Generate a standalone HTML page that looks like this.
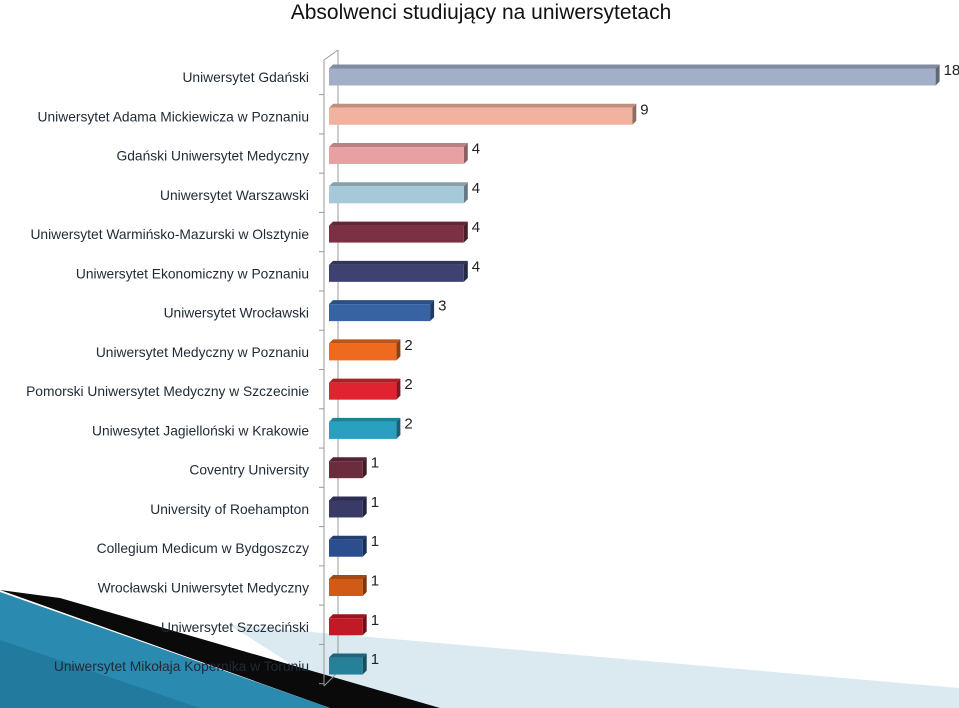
<!DOCTYPE html>
<html><head><meta charset="utf-8"><style>
html,body{margin:0;padding:0;background:#fff;}
svg{display:block;font-family:"Liberation Sans",sans-serif;}
</style></head><body>
<svg id="chart" width="959" height="708" viewBox="0 0 959 708" xmlns="http://www.w3.org/2000/svg">
<g>
<polygon points="230,625 959,688 959,708 360,708" fill="#dbe9f0"/>
<polygon points="0,590 60,598 440,708 330,708" fill="#0a0a0a"/>
<polygon points="0,592 330,708 0,708" fill="#2a8ab0"/>
<polygon points="0,640 200,708 0,708" fill="#1f6f95" opacity="0.6"/>
</g>
<text x="481" y="19" text-anchor="middle" font-size="21" fill="#111">Absolwenci studiujący na uniwersytetach</text>
<g id="axis">
<line x1="338" y1="50" x2="338" y2="672" stroke="#999" stroke-width="1"/>
<line x1="324" y1="60" x2="324" y2="686" stroke="#999" stroke-width="1"/>
<line x1="324" y1="60" x2="338" y2="50" stroke="#999"/>
<line x1="324" y1="686" x2="338" y2="672" stroke="#999"/>
</g>
<g id="bars"></g>
<g id="labels"></g>
</svg>
<script>
const categories=["Uniwersytet Gdański","Uniwersytet Adama Mickiewicza w Poznaniu","Gdański Uniwersytet Medyczny","Uniwersytet Warszawski","Uniwersytet Warmińsko-Mazurski w Olsztynie","Uniwersytet Ekonomiczny w Poznaniu","Uniwersytet Wrocławski","Uniwersytet Medyczny w Poznaniu","Pomorski Uniwersytet Medyczny w Szczecinie","Uniwesytet Jagielloński w Krakowie","Coventry University","University of Roehampton","Collegium Medicum w Bydgoszczy","Wrocławski Uniwersytet Medyczny","Uniwersytet Szczeciński","Uniwersytet Mikołaja Kopernika w Toruniu"];
const values=[18,9,4,4,4,4,3,2,2,2,1,1,1,1,1,1];
const colors=["#a3aec8","#f2b2a0","#e9a0a3","#a6c9d9","#7b3143","#3e4270","#3763a2","#ee6a1e","#e02330","#2b9fc0","#6b2d3e","#3a3a66","#2b4e8e","#d05a16","#c01a26","#26809a"];
const NS="http://www.w3.org/2000/svg";
const x0=329,unit=33.7,rowTop=75,rowStep=39.27,bh=17,d=4;
const xs=v=>x0+v*unit;
const ys=i=>rowTop+i*rowStep;
function shade(c,f){const n=parseInt(c.slice(1),16);const r=Math.round(((n>>16)&255)*f),g=Math.round(((n>>8)&255)*f),b=Math.round((n&255)*f);return "rgb("+r+","+g+","+b+")";}
const bars=document.getElementById("bars"),labels=document.getElementById("labels"),axis=document.getElementById("axis");
categories.forEach((c,i)=>{
 const cy=ys(i),y=cy-bh/2+d/2,x1=xs(values[i]);
 const g=document.createElementNS(NS,"g");
 
 
 const top=document.createElementNS(NS,"polygon");
 top.setAttribute("points",`${x0},${y} ${x0+d},${y-d} ${x1+d},${y-d} ${x1},${y}`);
 top.setAttribute("fill",shade(colors[i],0.8));
 const side=document.createElementNS(NS,"polygon");
 side.setAttribute("points",`${x1},${y} ${x1+d},${y-d} ${x1+d},${y+bh-d} ${x1},${y+bh}`);
 side.setAttribute("fill",shade(colors[i],0.6));
 const front=document.createElementNS(NS,"rect");
 front.setAttribute("x",x0);front.setAttribute("y",y);front.setAttribute("width",x1-x0);front.setAttribute("height",bh);front.setAttribute("fill",colors[i]);
 g.appendChild(top);g.appendChild(side);g.appendChild(front);bars.appendChild(g);
 const vt=document.createElementNS(NS,"text");
 
 
 vt.setAttribute("x",x1+d+4);vt.setAttribute("y",cy);vt.setAttribute("font-size","15");vt.setAttribute("fill","#222");
 vt.textContent=values[i];labels.appendChild(vt);
 const ct=document.createElementNS(NS,"text");
 
 
 ct.setAttribute("x",309);ct.setAttribute("y",cy+7);ct.setAttribute("font-size","13.8");ct.setAttribute("text-anchor","end");ct.setAttribute("fill","#1f2a36");
 ct.textContent=c;labels.appendChild(ct);
 const tk=document.createElementNS(NS,"line");
 
 
 const ty=cy+rowStep/2;
 tk.setAttribute("x1",319);tk.setAttribute("x2",324);tk.setAttribute("y1",ty);tk.setAttribute("y2",ty);tk.setAttribute("stroke","#999");
 axis.appendChild(tk);
});
</script>
</body></html>
